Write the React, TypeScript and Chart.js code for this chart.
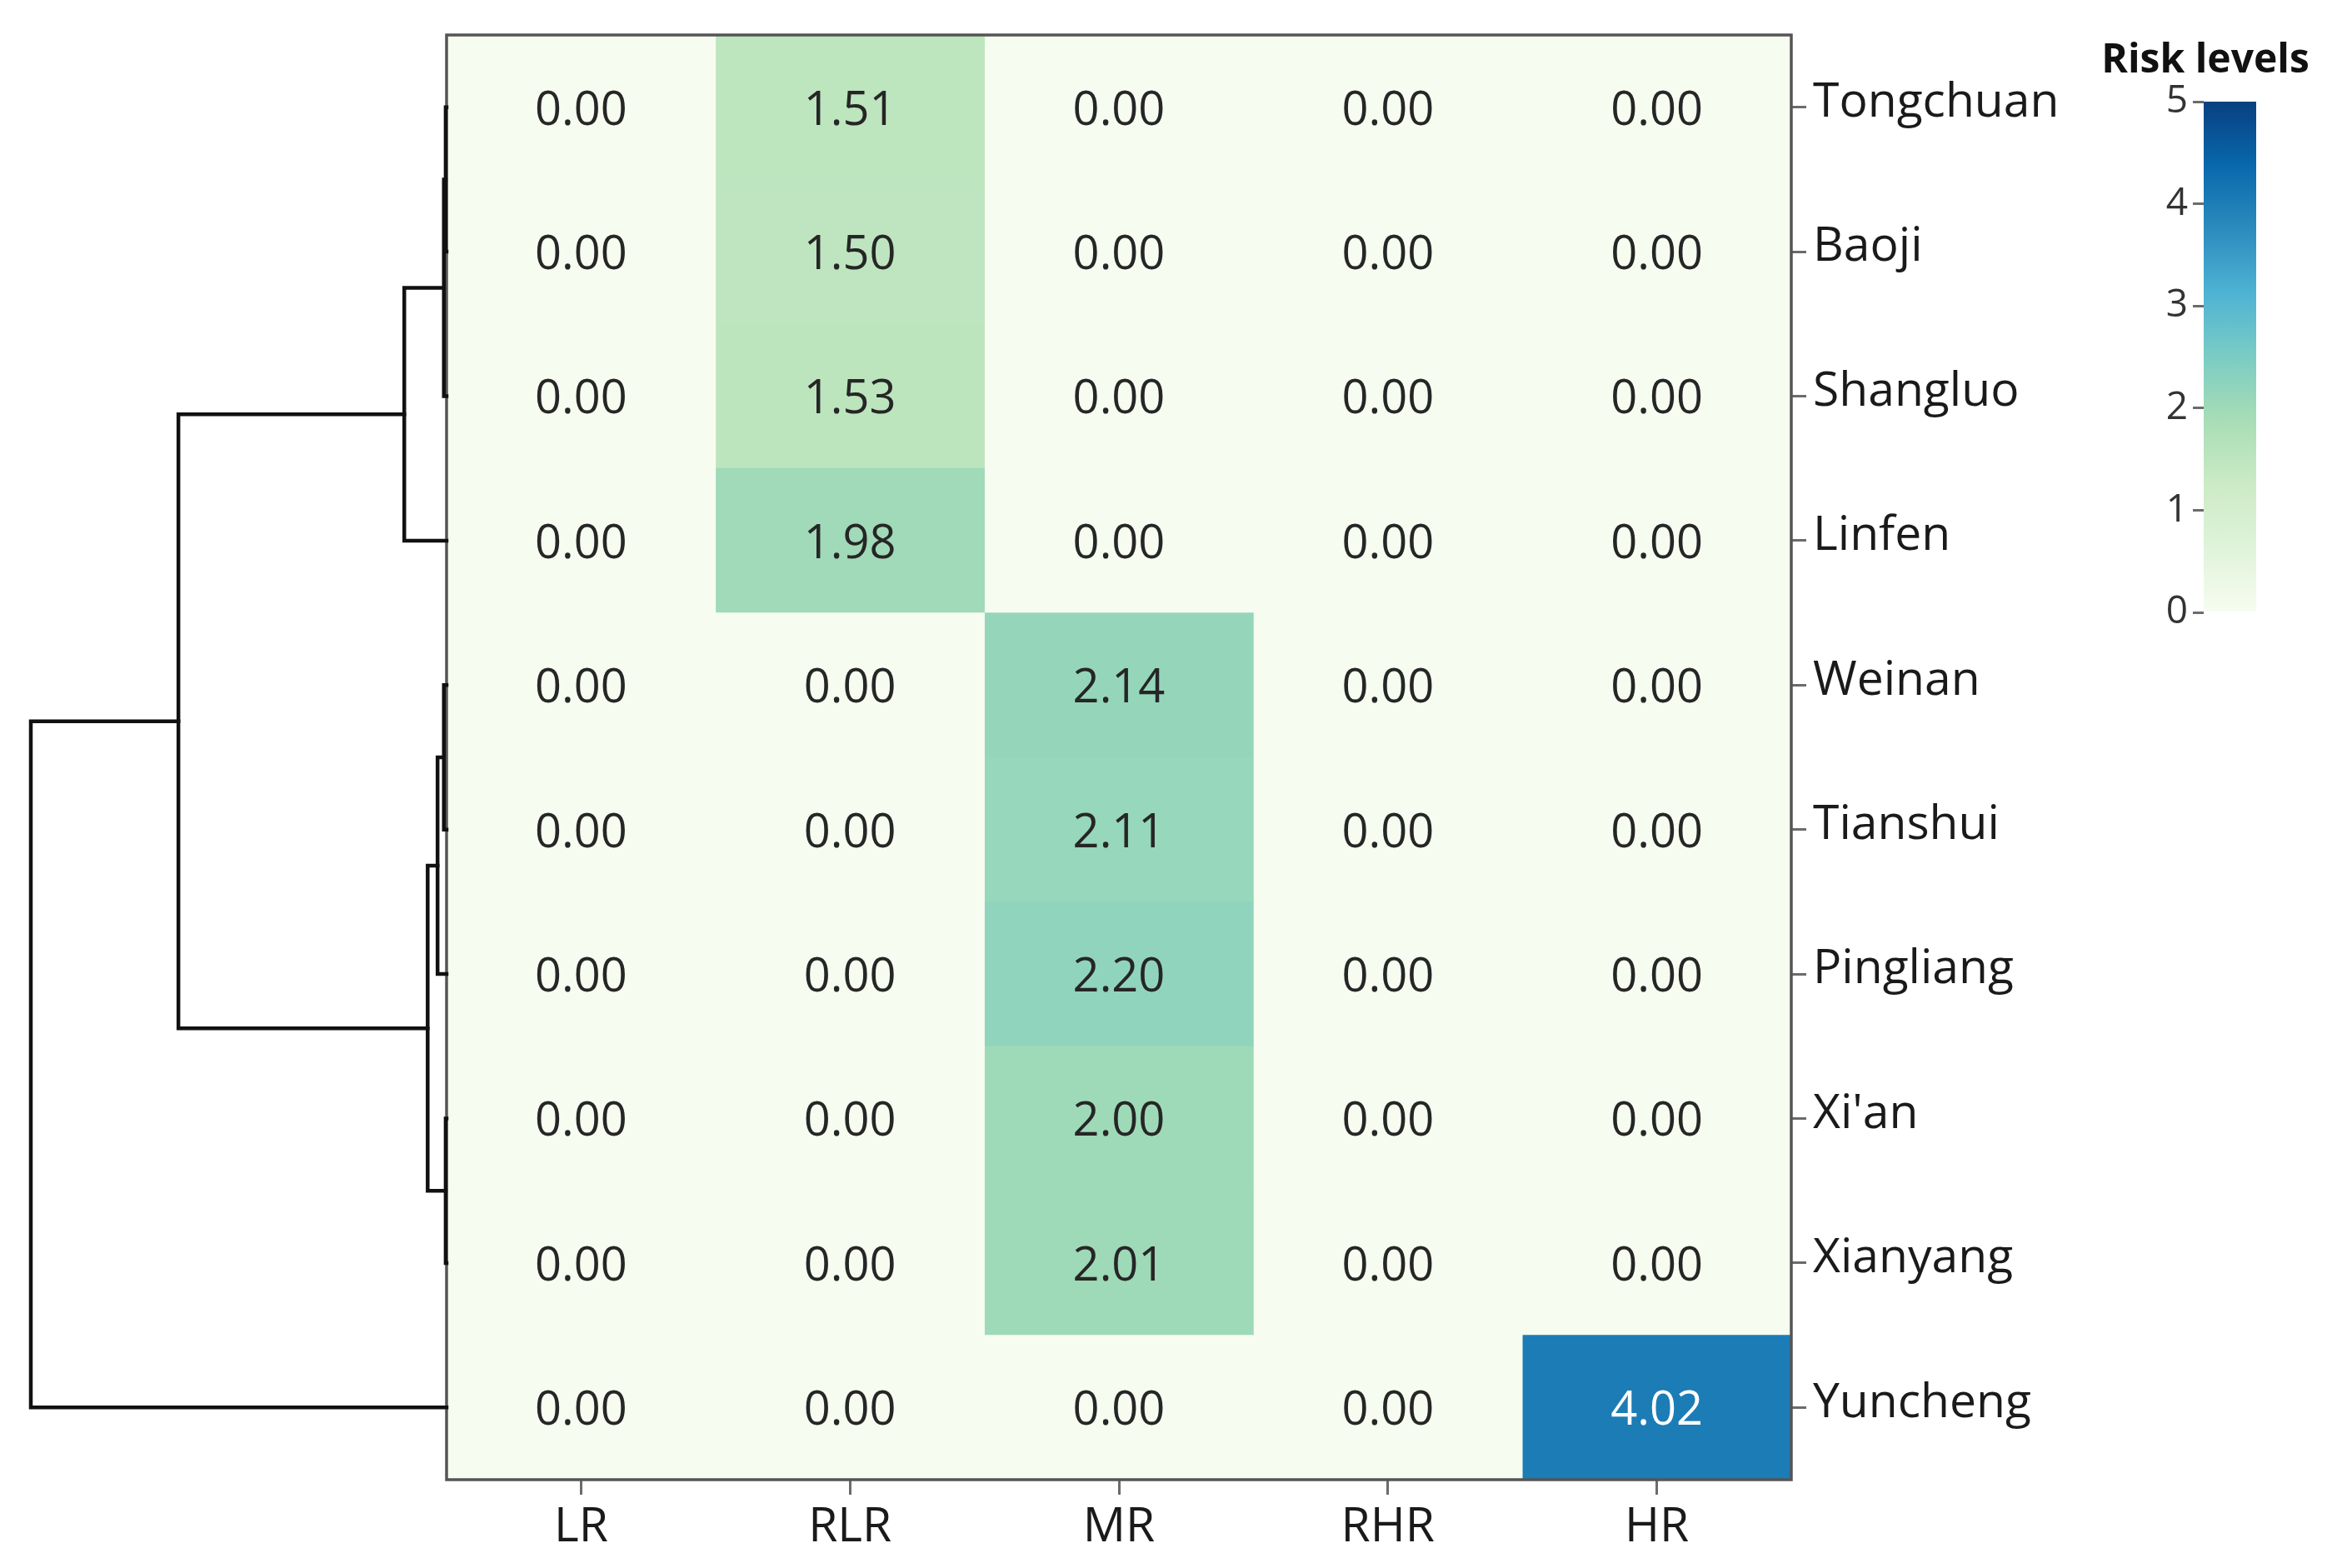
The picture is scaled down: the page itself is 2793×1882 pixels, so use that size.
import React, { useEffect, useRef } from 'react';
import { Chart, registerables } from 'chart.js';

Chart.register(...registerables);

// ---------------- data ----------------
const rowLabels = ['Tongchuan', 'Baoji', 'Shangluo', 'Linfen', 'Weinan', 'Tianshui', 'Pingliang', "Xi'an", 'Xianyang', 'Yuncheng'];
const colLabels = ['LR', 'RLR', 'MR', 'RHR', 'HR'];

const lrValues = [0, 0, 0, 0, 0, 0, 0, 0, 0, 0];
const rlrValues = [1.51, 1.5, 1.53, 1.98, 0, 0, 0, 0, 0, 0];
const mrValues = [0, 0, 0, 0, 2.14, 2.11, 2.2, 2.0, 2.01, 0];
const rhrValues = [0, 0, 0, 0, 0, 0, 0, 0, 0, 0];
const hrValues = [0, 0, 0, 0, 0, 0, 0, 0, 0, 4.02];

const colorbarTitle = 'Risk levels';
const colorbarTicks = [0, 1, 2, 3, 4, 5];
const colorMin = 0;
const colorMax = 5;

// dendrogram merges (ids 0..9 = rows, 10+ = earlier merges)
const mergeLeft = [0, 10, 11, 4, 13, 7, 14, 12, 17];
const mergeRight = [1, 2, 3, 5, 6, 8, 15, 16, 9];
const mergeHeight = [0.01, 0.03, 0.47, 0.03, 0.1, 0.01, 0.21, 2.98, 4.62];

const gnbuStops = ['#f7fcf0', '#e0f3db', '#ccebc5', '#a8ddb5', '#7bccc4', '#4eb3d3', '#2b8cbe', '#0868ac', '#084081'];

// ---------------- helpers ----------------
const FONT = '"Open Sans", "Noto Sans", sans-serif';
const W = 2793;
const H = 1882;

function hexToRgb(h: string) {
  const n = parseInt(h.slice(1), 16);
  return [(n >> 16) & 255, (n >> 8) & 255, n & 255];
}
function gnbu(v: number) {
  const t = Math.max(0, Math.min(1, (v - colorMin) / (colorMax - colorMin))) * (gnbuStops.length - 1);
  const i = Math.min(gnbuStops.length - 2, Math.floor(t));
  const f = t - i;
  const a = hexToRgb(gnbuStops[i]);
  const b = hexToRgb(gnbuStops[i + 1]);
  const c = a.map((x, k) => Math.round(x + (b[k] - x) * f));
  return `rgb(${c[0]},${c[1]},${c[2]})`;
}

function zeroPad(s: any) {
  s.paddingTop = 0;
  s.paddingBottom = 0;
  s.paddingLeft = 0;
  s.paddingRight = 0;
}

export default function App() {
  const dRef = useRef<HTMLCanvasElement>(null);
  const hRef = useRef<HTMLCanvasElement>(null);
  const cRef = useRef<HTMLCanvasElement>(null);

  useEffect(() => {
    document.body.style.margin = '0';
    const columns = [lrValues, rlrValues, mrValues, rhrValues, hrValues];

    // ---- dendrogram ----
    const pos: number[] = rowLabels.map((_, i) => i);
    const hts: number[] = rowLabels.map(() => 0);
    const links: { x: number; y: number }[][] = [];
    for (let k = 0; k < mergeLeft.length; k++) {
      const l = mergeLeft[k];
      const r = mergeRight[k];
      const h = mergeHeight[k];
      links.push([
        { x: hts[l], y: pos[l] },
        { x: h, y: pos[l] },
        { x: h, y: pos[r] },
        { x: hts[r], y: pos[r] },
      ]);
      pos.push((pos[l] + pos[r]) / 2);
      hts.push(h);
    }
    const dendro = new Chart(dRef.current!, {
      type: 'scatter',
      data: {
        datasets: links.map((pts) => ({
          data: pts,
          showLine: true,
          borderColor: '#111111',
          borderWidth: 4.5,
          pointRadius: 0,
          clip: false as any,
          borderCapStyle: 'square' as any,
        })),
      },
      options: {
        responsive: false,
        animation: false,
        layout: { padding: { left: 37, right: 24, top: 42, bottom: 106 } },
        plugins: { legend: { display: false }, tooltip: { enabled: false } },
        scales: {
          x: { type: 'linear', reverse: true, min: 0, max: Math.max(...mergeHeight), display: false },
          y: { type: 'linear', reverse: true, min: -0.5, max: rowLabels.length - 0.5, display: false },
        },
      },
    });

    // ---- heatmap ----
    const cellText = {
      id: 'cellText',
      afterDatasetsDraw(chart: any) {
        const ctx = chart.ctx;
        ctx.save();
        ctx.font = `56px ${FONT}`;
        ctx.textAlign = 'center';
        ctx.textBaseline = 'middle';
        chart.data.datasets.forEach((_: any, c: number) => {
          const meta = chart.getDatasetMeta(c);
          meta.data.forEach((el: any, r: number) => {
            const v = columns[c][r];
            const p = el.getCenterPoint();
            ctx.fillStyle = v > 3 ? '#ffffff' : '#262626';
            ctx.fillText(v.toFixed(2), p.x, p.y + 5);
          });
        });
        const a = chart.chartArea;
        ctx.strokeStyle = '#555555';
        ctx.lineWidth = 3.5;
        ctx.strokeRect(a.left, a.top, a.right - a.left, a.bottom - a.top);
        ctx.restore();
      },
    };
    const heat = new Chart(hRef.current!, {
      type: 'bar',
      data: {
        labels: rowLabels,
        datasets: columns.map((vals, c) => ({
          label: colLabels[c],
          data: vals.map(() => [c - 0.5, c + 0.5]) as any,
          backgroundColor: vals.map((v) => gnbu(v)),
          borderWidth: 0,
          barPercentage: 1,
          categoryPercentage: 1,
          grouped: false,
        })),
      },
      options: {
        indexAxis: 'y',
        responsive: false,
        animation: false,
        layout: { padding: { left: 536, right: 0, top: 42, bottom: 0 } },
        plugins: { legend: { display: false }, tooltip: { enabled: false } },
        scales: {
          x: {
            type: 'linear',
            min: -0.5,
            max: colLabels.length - 0.5,
            position: 'bottom',
            afterBuildTicks: (s: any) => {
              s.ticks = colLabels.map((_, i) => ({ value: i }));
            },
            afterFit: (s: any) => {
              s.height = H - 1776;
              zeroPad(s);
            },
            ticks: {
              callback: (v: any) => colLabels[Math.round(Number(v))],
              font: { family: FONT, size: 57 },
              color: '#1a1a1a',
              padding: 6,
              maxRotation: 0,
              autoSkip: false,
            },
            grid: { drawOnChartArea: false, drawTicks: true, tickLength: 18, color: '#6b6b6b', lineWidth: 3 },
            border: { display: false },
          },
          y: {
            type: 'category',
            position: 'right',
            afterFit: (s: any) => {
              s.width = W - 2150;
              zeroPad(s);
            },
            ticks: {
              font: { family: FONT, size: 57 },
              color: '#1a1a1a',
              padding: 8,
              labelOffset: -5,
              autoSkip: false,
            },
            grid: { offset: false, drawOnChartArea: false, drawTicks: true, tickLength: 18, color: '#6b6b6b', lineWidth: 3 },
            border: { display: false },
          },
        },
      },
      plugins: [cellText],
    });

    // ---- colorbar ----
    const cbTitle = {
      id: 'cbTitle',
      afterDraw(chart: any) {
        const ctx = chart.ctx;
        ctx.save();
        ctx.font = `bold 48px ${FONT}`;
        ctx.fillStyle = '#111111';
        ctx.textAlign = 'center';
        ctx.textBaseline = 'middle';
        ctx.fillText(colorbarTitle, 147, 73);
        ctx.restore();
      },
    };
    const cbar = new Chart(cRef.current!, {
      type: 'bar',
      data: {
        labels: [''],
        datasets: [
          {
            data: [[colorMin, colorMax]] as any,
            backgroundColor: (c: any) => {
              const chart = c.chart;
              if (!chart.chartArea) return gnbuStops[0];
              const ys = chart.scales.y;
              const g = chart.ctx.createLinearGradient(0, ys.getPixelForValue(colorMin), 0, ys.getPixelForValue(colorMax));
              gnbuStops.forEach((s, i) => g.addColorStop(i / (gnbuStops.length - 1), s));
              return g;
            },
            borderWidth: 0,
            barPercentage: 1,
            categoryPercentage: 1,
          },
        ],
      },
      options: {
        responsive: false,
        animation: false,
        layout: { padding: { left: 0, right: 85, top: 122, bottom: H - 735 } },
        plugins: { legend: { display: false }, tooltip: { enabled: false } },
        scales: {
          x: { display: false },
          y: {
            type: 'linear',
            position: 'left',
            min: colorMin,
            max: colorMax,
            afterBuildTicks: (s: any) => {
              s.ticks = colorbarTicks.map((v) => ({ value: v }));
            },
            afterFit: (s: any) => {
              s.width = 145;
              zeroPad(s);
            },
            ticks: {
              font: { family: FONT, size: 46 },
              color: '#333333',
              padding: 6,
            },
            grid: { drawOnChartArea: false, drawTicks: true, tickLength: 13, color: '#6b6b6b', lineWidth: 3 },
            border: { display: false },
          },
        },
      },
      plugins: [cbTitle],
    });

    return () => {
      dendro.destroy();
      heat.destroy();
      cbar.destroy();
    };
  }, []);

  return (
    <div style={{ position: 'relative', width: W, height: H, background: '#ffffff', overflow: 'hidden' }}>
      <canvas ref={hRef} width={W} height={H} style={{ position: 'absolute', left: 0, top: 0 }} />
      <canvas ref={dRef} width={560} height={H} style={{ position: 'absolute', left: 0, top: 0 }} />
      <canvas ref={cRef} width={293} height={H} style={{ position: 'absolute', left: 2500, top: 0 }} />
    </div>
  );
}
